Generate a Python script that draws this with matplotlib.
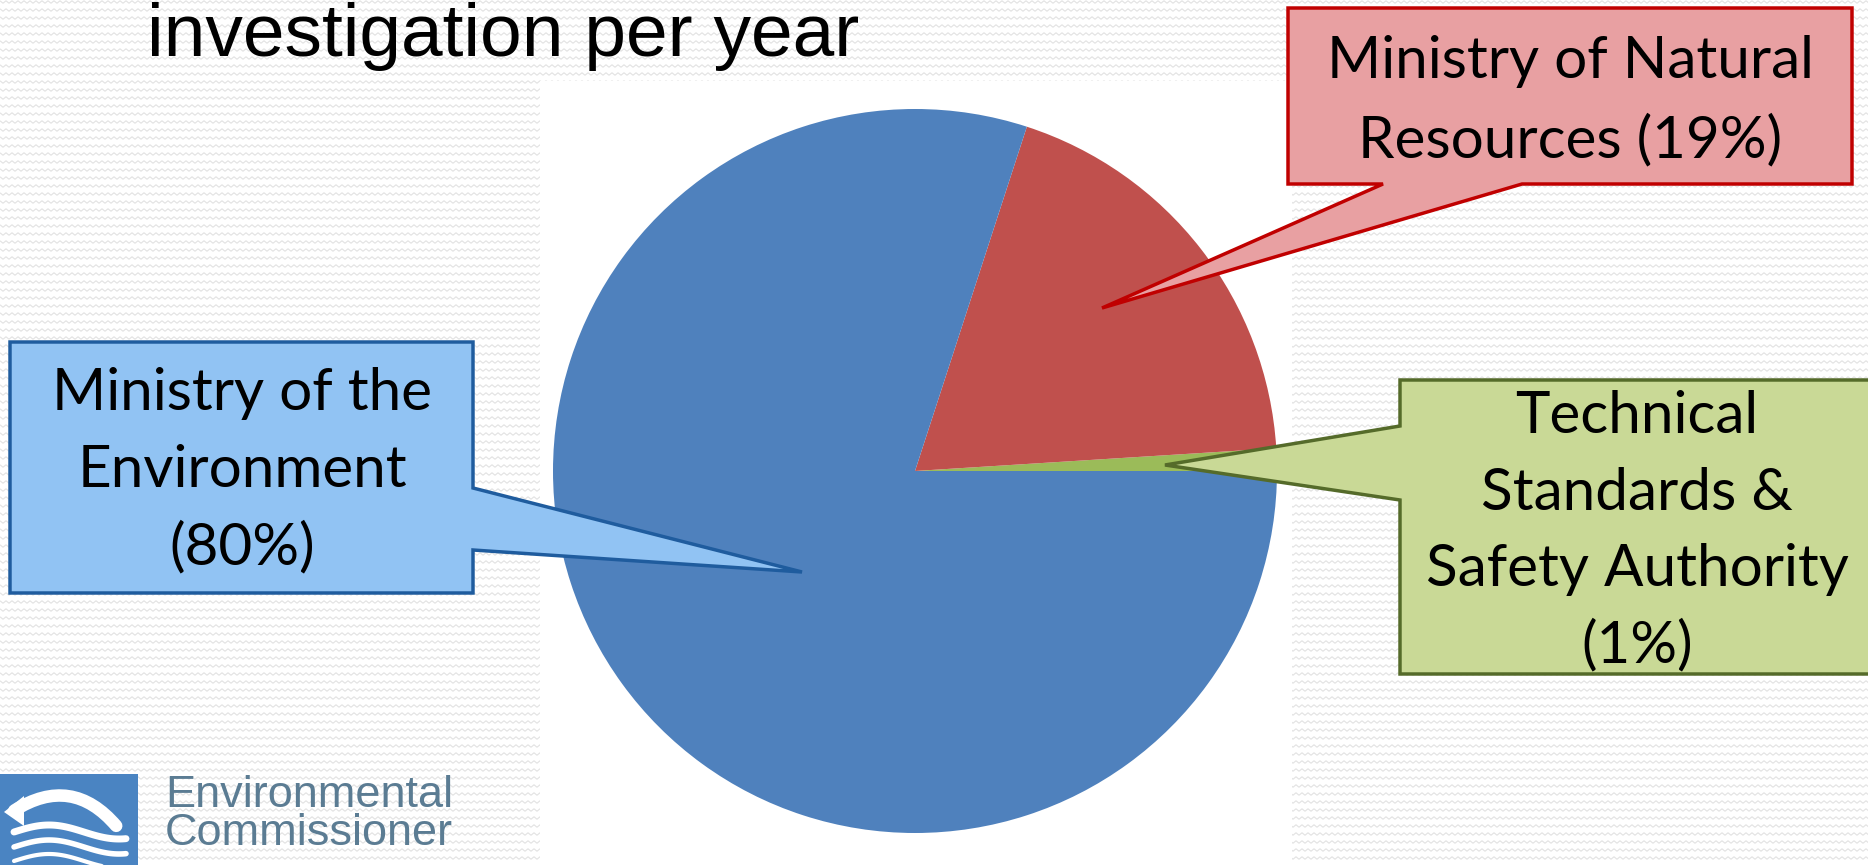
import matplotlib.pyplot as plt
from matplotlib.patches import Polygon, Rectangle, FancyArrowPatch
from matplotlib.collections import LineCollection
import numpy as np

# data
categories = ['Technical Standards & Safety Authority',
              'Ministry of Natural Resources',
              'Ministry of the Environment']
shares = [1, 19, 80]
label_lines = [['Technical', 'Standards &', 'Safety Authority', '({}%)'],
               ['Ministry of Natural', 'Resources ({}%)'],
               ['Ministry of the', 'Environment', '({}%)']]
slice_colors = ['#9BBB59', '#C0504D', '#4F81BD']
box_fill = ['#C9D996', '#E8A0A2', '#91C3F3']
box_edge = ['#556B2A', '#C00000', '#1F5C9E']

W, H = 1868, 865
fig = plt.figure(figsize=(W / 100, H / 100), dpi=100)
fig.patch.set_facecolor('white')
ax = fig.add_axes([0, 0, 1, 1])

# faint zigzag slide texture
zx = np.arange(0, W + 6, 3.0)
rows = []
for y in np.arange(2, H, 8):
    zy = y + np.where((np.arange(len(zx)) % 2) == 0, -1.2, 1.2)
    rows.append(np.column_stack([zx, zy]))
ax.add_collection(LineCollection(rows, colors='#e2e2e2', linewidths=0.8, zorder=0))

# white plot area behind the pie
ax.add_patch(Rectangle((540, 81), 752, 800, facecolor='white', edgecolor='none', zorder=1))

# pie (y axis is flipped below, so counterclock=False reads anticlockwise on screen)
wedges, _ = ax.pie(shares, colors=slice_colors, startangle=0, counterclock=False,
                   center=(915, 471), radius=362, wedgeprops=dict(linewidth=0))
for w in wedges:
    w.set_zorder(2)

# callouts: box outline with the pointer built in
callouts = [
    [(1400, 380), (1880, 380), (1880, 674), (1400, 674), (1400, 500), (1165, 465), (1400, 426)],
    [(1288, 8), (1852, 8), (1852, 184), (1522, 184), (1102, 308), (1383, 184), (1288, 184)],
    [(10, 342), (473, 342), (473, 488), (802, 572), (473, 550), (473, 593), (10, 593)],
]
for pts, fc, ec in zip(callouts, box_fill, box_edge):
    ax.add_patch(Polygon(pts, closed=True, facecolor=fc, edgecolor=ec, linewidth=2.5,
                         joinstyle='miter', zorder=3))

# callout text, line by line (x centre, first baseline, line step)
text_pos = [(1637, 433, 76.5), (1570, 78, 79), (242, 410, 77)]
for lines, pct, (cx, y0, step) in zip(label_lines, shares, text_pos):
    for i, ln in enumerate(lines):
        ax.text(cx, y0 + i * step, ln.format(pct), ha='center', va='baseline',
                fontsize=42, family='Lato', color='black', zorder=4)

# title (cut off slide heading)
ax.text(147, 56, 'investigation per year', ha='left', va='baseline',
        fontsize=54, family='Liberation Sans', color='black', zorder=4)

# logo
ax.add_patch(Rectangle((0, 774), 138, 95, facecolor='#4A84C2', edgecolor='none', zorder=2))
ax.add_patch(FancyArrowPatch((12, 812), (118, 828), connectionstyle='arc3,rad=-0.45',
                             arrowstyle='-', lw=9, color='white', capstyle='round', zorder=3))
ax.add_patch(Polygon([(4, 812), (24, 796), (24, 826)], closed=True, facecolor='white',
                     edgecolor='none', zorder=3))
xs = np.linspace(14, 126, 60)
for k, off in enumerate([832, 847, 861]):
    ax.plot(xs, off - 7 * np.sin((xs - 14) / 112 * np.pi * 1.6), color='white',
            lw=5 - k, solid_capstyle='round', zorder=3)
ax.text(165, 807, 'Environmental', fontsize=32.5, family='Liberation Sans', color='#5B7C93',
        va='baseline', zorder=4)
ax.text(165, 845, 'Commissioner', fontsize=32.5, family='Liberation Sans', color='#5B7C93',
        va='baseline', zorder=4)

ax.set_xlim(0, W)
ax.set_ylim(H, 0)
ax.set_aspect('auto')
ax.axis('off')

fig.savefig('out.png', dpi=100, facecolor=fig.get_facecolor())
